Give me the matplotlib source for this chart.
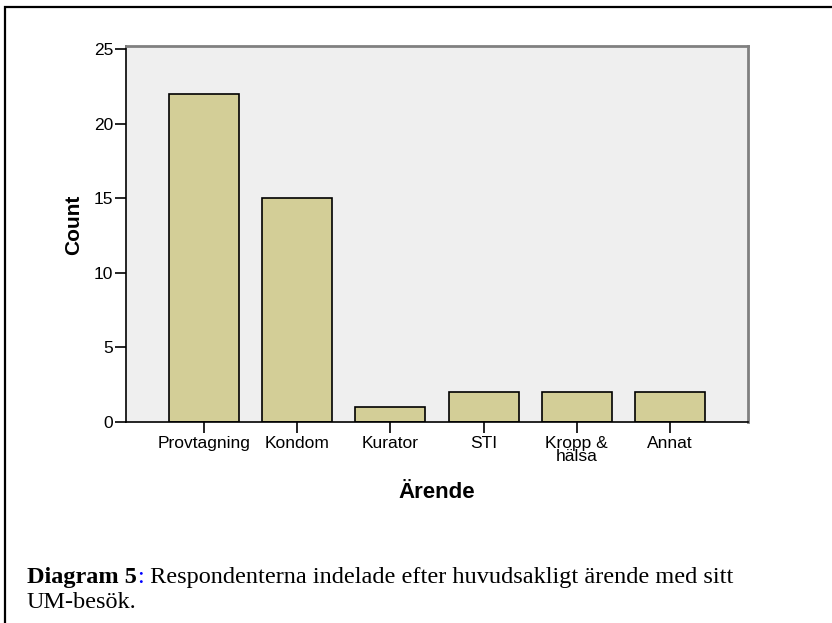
import matplotlib
matplotlib.use('Agg')
import matplotlib.pyplot as plt
from matplotlib.patches import Rectangle

# Данные
categories = ['Provtagning', 'Kondom', 'Kurator', 'STI', 'Kropp &\nhälsa', 'Annat']
counts = [22, 15, 1, 2, 2, 2]
y_ticks = [0, 5, 10, 15, 20, 25]

plt.rcParams['font.family'] = ['Liberation Sans', 'DejaVu Sans']

fig = plt.figure(figsize=(8.32, 6.23), dpi=100)
fig.patch.set_facecolor('white')

# Рамка вокруг всего рисунка
fig.patches.append(Rectangle((5 / 832, -0.05), 1.0, 1 - 7 / 623 + 0.05,
                             transform=fig.transFigure, fill=False,
                             edgecolor='black', linewidth=1.6))

ax = fig.add_axes([126 / 832, 1 - 422 / 623, 622 / 832, 376 / 623])
ax.set_facecolor('#efefef')

x = list(range(len(categories)))
ax.bar(x, counts, width=0.75, color='#d3ce97', edgecolor='black', linewidth=1.2)

ax.set_xlim(-0.837, len(categories) - 1 + 0.837)
ax.set_ylim(0, 25.2)
ax.set_yticks(y_ticks)
ax.set_xticks(x)
ax.set_xticklabels(categories, fontsize=12.5, linespacing=0.85)
ax.tick_params(axis='y', labelsize=12.5, length=8, width=1.2, pad=1)
ax.tick_params(axis='x', length=8, width=1.2, pad=2)

for side in ['top', 'right']:
    ax.spines[side].set_color('#808080')
    ax.spines[side].set_linewidth(2)
for side in ['left', 'bottom']:
    ax.spines[side].set_color('black')
    ax.spines[side].set_linewidth(1.2)

ax.set_ylabel('Count', fontsize=15, fontweight='bold')
ax.yaxis.set_label_coords(-0.069, 0.525)
ax.set_xlabel('Ärende', fontsize=16, fontweight='bold')
ax.xaxis.set_label_coords(0.5, -0.16)

# Подпись к диаграмме
cap_font = ['Liberation Serif', 'DejaVu Serif']
cap_size = 17.5
y1 = 1 - 583 / 623
y2 = 1 - 608 / 623
t1 = fig.text(27 / 832, y1, 'Diagram 5', fontsize=cap_size,
              fontweight='bold', family=cap_font, va='baseline')
t2 = fig.text(0, y1, ':', fontsize=cap_size, family=cap_font,
              color='blue', va='baseline')
t3 = fig.text(0, y1, ' Respondenterna indelade efter huvudsakligt ärende med sitt',
              fontsize=cap_size, family=cap_font, va='baseline')
fig.text(27 / 832, y2, 'UM-besök.', fontsize=cap_size,
         family=cap_font, va='baseline')

fig.canvas.draw()
r = fig.canvas.get_renderer()
inv = fig.transFigure.inverted()
bb = t1.get_window_extent(r)
t2.set_x(inv.transform((bb.x1, 0))[0])
fig.canvas.draw()
bb2 = t2.get_window_extent(r)
t3.set_x(inv.transform((bb2.x1, 0))[0])

fig.savefig('out.png', dpi=100)
